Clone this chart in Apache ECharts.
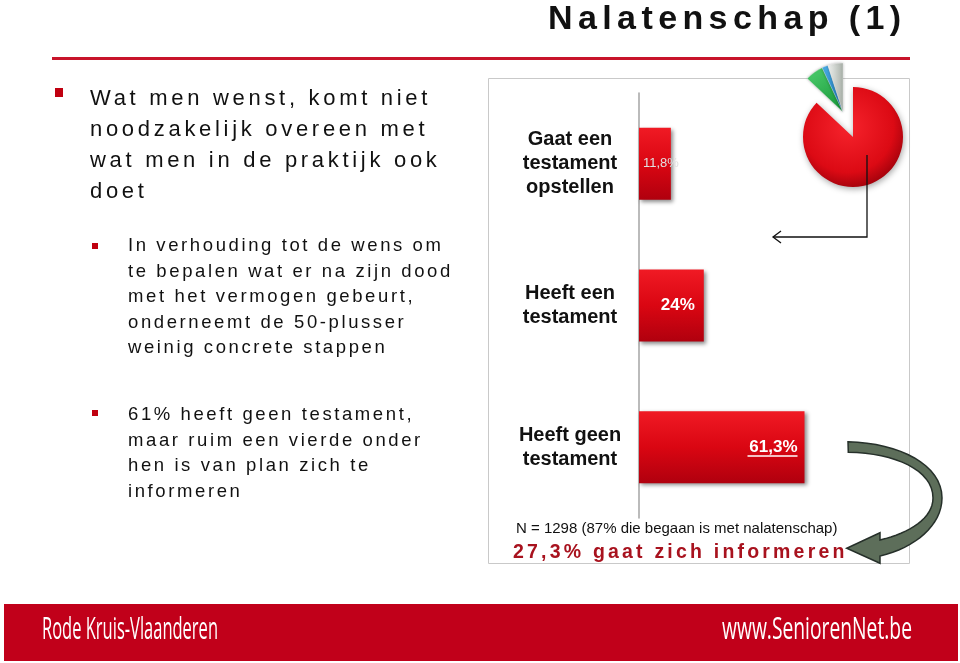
<!DOCTYPE html>
<html>
<head>
<meta charset="utf-8">
<script src="https://cdn.jsdelivr.net/npm/echarts@6/dist/echarts.min.js"></script>
<style>
  html,body{margin:0;padding:0;background:#fff;}
  #wrap{position:relative;width:960px;height:663px;overflow:hidden;}
  #chart{position:absolute;left:0;top:0;width:960px;height:663px;}
  .t{position:absolute;white-space:pre;font-family:"Liberation Sans",Arial,sans-serif;color:#111;pointer-events:none;}
</style>
</head>
<body>
<div id="wrap">
  <div id="chart"></div>
  <div class="t" id="title" style="left:548px;top:0px;font-size:34px;font-weight:bold;letter-spacing:5.4px;line-height:34px;"></div>
  <div class="t" id="b1" style="left:90px;top:82px;font-size:22px;letter-spacing:3.7px;line-height:31px;"></div>
  <div class="t" id="b2" style="left:128px;top:232px;font-size:18.5px;letter-spacing:2.6px;line-height:25.5px;"></div>
  <div class="t" id="b3" style="left:128px;top:401px;font-size:18.5px;letter-spacing:2.6px;line-height:25.5px;"></div>
  <div class="t" id="note" style="left:516px;top:520px;font-size:15px;line-height:15px;"></div>
  <div class="t" id="info" style="left:513px;top:541px;font-size:19.5px;font-weight:bold;letter-spacing:3.2px;line-height:20px;color:#a8121e;"></div>
  <div class="t" id="f1" style="left:42px;top:612px;font-family:'Open Sans',sans-serif;font-size:31px;line-height:31px;color:#fff;transform-origin:0 0;"></div>
  <div class="t" id="f2" style="left:722px;top:612px;font-family:'Open Sans',sans-serif;font-size:31px;line-height:31px;color:#fff;transform-origin:0 0;"></div>
</div>
<script>
// ---- data ----
const categories = ['Gaat een\ntestament\nopstellen', 'Heeft een\ntestament', 'Heeft geen\ntestament'];
const values = [11.8, 24, 61.3];
const pieNames = ['Begaan met nalatenschap', 'Overig A', 'Overig B', 'Overig C'];
const pieValues = [87, 6, 2, 5];

// ---- texts ----
const titleText = 'Nalatenschap (1)';
const bullet1 = ['Wat men wenst, komt niet', 'noodzakelijk overeen met', 'wat men in de praktijk ook', 'doet'];
const bullet2 = ['In verhouding tot de wens om', 'te bepalen wat er na zijn dood', 'met het vermogen gebeurt,', 'onderneemt de 50-plusser', 'weinig concrete stappen'];
const bullet3 = ['61% heeft geen testament,', 'maar ruim een vierde onder', 'hen is van plan zich te', 'informeren'];
const noteText = 'N = 1298 (87% die begaan is met nalatenschap)';
const infoText = '27,3% gaat zich informeren';
const footerLeft = 'Rode Kruis-Vlaanderen';
const footerRight = 'www.SeniorenNet.be';

document.getElementById('title').textContent = titleText;
document.getElementById('b1').textContent = bullet1.join('\n');
document.getElementById('b2').textContent = bullet2.join('\n');
document.getElementById('b3').textContent = bullet3.join('\n');
document.getElementById('note').textContent = noteText;
document.getElementById('info').textContent = infoText;
document.getElementById('f1').textContent = footerLeft;
document.getElementById('f2').textContent = footerRight;

function fitWidth(id, w){
  const el = document.getElementById(id);
  el.style.transform = 'none';
  const cw = el.getBoundingClientRect().width;
  if (cw > 0) el.style.transform = 'scaleX(' + (w / cw) + ')';
}
function fitFooter(){ fitWidth('f1', 176); fitWidth('f2', 190); }
fitFooter();
if (document.fonts && document.fonts.ready) document.fonts.ready.then(fitFooter);

const fmt = v => String(v).replace('.', ',') + '%';

// sample a cubic bezier (decoration geometry for the curved arrow)
function bez(p0, p1, p2, p3, n){
  const pts = [];
  for (let i = 1; i <= n; i++){
    const t = i / n, u = 1 - t;
    pts.push([
      u*u*u*p0[0] + 3*u*u*t*p1[0] + 3*u*t*t*p2[0] + t*t*t*p3[0],
      u*u*u*p0[1] + 3*u*u*t*p1[1] + 3*u*t*t*p2[1] + t*t*t*p3[1]
    ]);
  }
  return pts;
}
const arrowPts = [[848,441.7]]
  .concat(bez([848,441.7],[900,443],[942,465],[942,498],16))
  .concat(bez([942,498],[942,525],[915,548],[880,556],16))
  .concat([[880,563.3],[846.7,548.3],[880,532.7],[880,540]])
  .concat(bez([880,540],[910,533],[933,518],[933,498],16))
  .concat(bez([933,498],[933,470],[895,453],[848.3,452.3],16));

const labelStyles = [
  {show:true, position:'insideLeft', distance:4, color:'#e0e0e0', fontSize:13, fontWeight:'normal', fontFamily:'Liberation Sans, Arial'},
  {show:true, position:'insideRight', distance:9, color:'#fff', fontSize:17, fontWeight:'bold', fontFamily:'Liberation Sans, Arial'},
  {show:true, position:'insideRight', distance:7, color:'#fff', fontSize:17, fontWeight:'bold', fontFamily:'Liberation Sans, Arial'}
];

const pieColors = [
  {type:'radial', x:0.45, y:0.4, r:0.65, colorStops:[{offset:0,color:'#f6232c'},{offset:0.7,color:'#dc0a14'},{offset:1,color:'#98000a'}]},
  {type:'linear', x:0, y:0, x2:1, y2:1, colorStops:[{offset:0,color:'#4fcf6f'},{offset:1,color:'#149436'}]},
  {type:'linear', x:0, y:0, x2:1, y2:1, colorStops:[{offset:0,color:'#4aaee6'},{offset:1,color:'#1470b4'}]},
  {type:'linear', x:0, y:0, x2:1, y2:0, colorStops:[{offset:0,color:'#f2f4f2'},{offset:1,color:'#a8b0a8'}]}
];

const chart = echarts.init(document.getElementById('chart'), null, {renderer:'canvas'});

const graphics = [
  {id:'box', type:'rect', shape:{x:488.5, y:78.5, width:421, height:485}, style:{fill:'none', stroke:'#c9c9c9', lineWidth:1}, z:0},
  {id:'titleLine', type:'rect', shape:{x:52, y:57, width:858, height:3}, style:{fill:'#c8142a'}},
  {id:'footer', type:'rect', shape:{x:4, y:604, width:954, height:57}, style:{fill:'#c1001a'}},
  {id:'sq1', type:'rect', shape:{x:55, y:88, width:8, height:9}, style:{fill:'#c00010'}},
  {id:'sq2', type:'rect', shape:{x:92, y:243, width:6, height:6}, style:{fill:'#c00010'}},
  {id:'sq3', type:'rect', shape:{x:92, y:410, width:6, height:6}, style:{fill:'#c00010'}},
  {id:'conn', type:'polyline', shape:{points:[[867,155],[867,237],[773,237]]}, style:{stroke:'#111', lineWidth:1.3, fill:null}, z:10},
  {id:'connHead', type:'polyline', shape:{points:[[781,231],[773,237],[781,243]]}, style:{stroke:'#111', lineWidth:1.3, fill:null}, z:10},
  {id:'curve', type:'polygon', shape:{points: arrowPts}, style:{fill:'#5d6e5a', stroke:'#26302a', lineWidth:1.5}, z:10}
];

chart.setOption({
  animation:false,
  grid:{left:639, top:93, width:270, height:425, containLabel:false},
  xAxis:{type:'value', min:0, max:100, show:false},
  yAxis:{type:'category', inverse:true, data:categories,
    axisLine:{show:true, lineStyle:{color:'#a4a4a4', width:1.5}},
    axisTick:{show:false},
    axisLabel:{align:'center', margin:69, color:'#111', fontSize:20, fontWeight:'bold', lineHeight:24, fontFamily:'Liberation Sans, Arial'}
  },
  series:[
    {type:'bar', barWidth:72,
      data: values.map((v,i)=>({value:v, label:labelStyles[i]})),
      label:{formatter: p => fmt(p.value)},
      itemStyle:{
        color:{type:'linear', x:0, y:0, x2:0, y2:1, colorStops:[{offset:0,color:'#f01a24'},{offset:0.5,color:'#da0612'},{offset:1,color:'#b0000e'}]},
        shadowBlur:4, shadowOffsetX:2, shadowOffsetY:2, shadowColor:'rgba(0,0,0,0.45)'
      },
      emphasis:{disabled:true}
    },
    {type:'pie', center:[853,137], radius:50, startAngle:90, clockwise:true, label:{show:false}, labelLine:{show:false},
      emphasis:{disabled:true}, silent:true,
      data: pieValues.map((v,i)=>({name:pieNames[i], value:v, itemStyle: i===0 ? {color:pieColors[0], shadowBlur:6, shadowOffsetX:1, shadowOffsetY:2, shadowColor:'rgba(0,0,0,0.35)'} : {color:'transparent'}}))
    },
    {type:'pie', center:[843,112], radius:49, startAngle:90, clockwise:true, label:{show:false}, labelLine:{show:false},
      emphasis:{disabled:true}, silent:true,
      data: pieValues.map((v,i)=>({name:pieNames[i], value:v, itemStyle: i===0 ? {color:'transparent'} : {color:pieColors[i], borderColor:'rgba(255,255,255,0.5)', borderWidth:0.5, shadowBlur:3, shadowColor:'rgba(0,0,0,0.3)'}}))
    }
  ],
  graphic: graphics
});

// underline under the 61,3% label, positioned from the bar end
const pEnd = chart.convertToPixel({seriesIndex:0}, [values[2], 2]);
chart.setOption({graphic:[{id:'underline', type:'rect', shape:{x:pEnd[0]-7-50, y:pEnd[1]+8, width:50, height:1.5}, style:{fill:'#fff'}, z:20}]});
</script>
</body>
</html>
